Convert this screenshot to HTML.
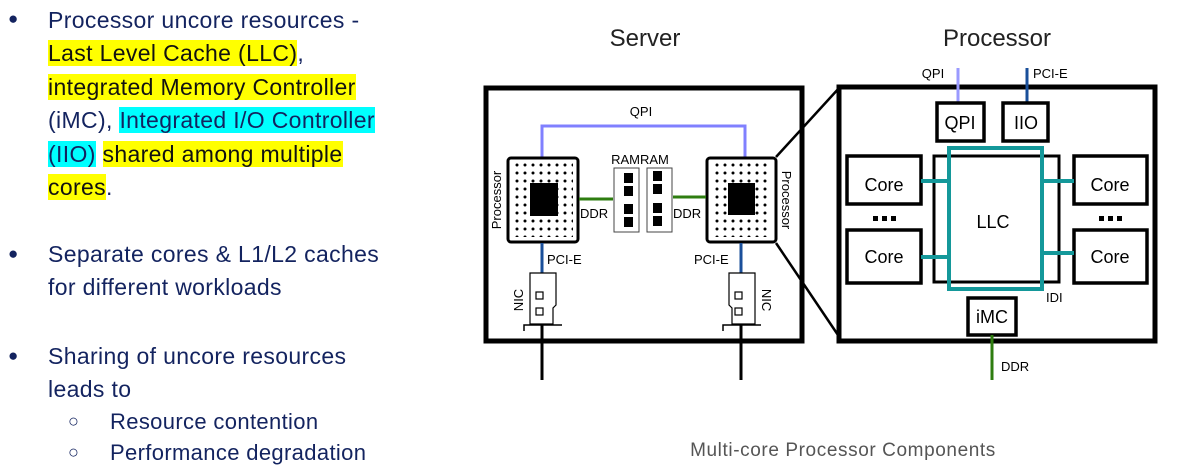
<!DOCTYPE html>
<html><head><meta charset="utf-8"><style>
body{margin:0;width:1188px;height:474px;background:#fff;overflow:hidden;position:relative;font-family:"Liberation Sans",Arial,sans-serif}
.l{position:absolute;font-size:23px;letter-spacing:0.35px;color:#13235f;white-space:nowrap;line-height:27px}
.y{background:#ffff00;color:#111}
.c{background:#00ffff;color:#13235f}
.b{position:absolute;font-size:17px;color:#13235f}
</style></head><body>
<div class="b" style="left:8px;top:9px">●</div>
<div class="l" style="left:48px;top:7px">Processor uncore resources -</div>
<div class="l" style="left:48px;top:40px"><span class="y">Last Level Cache (LLC)</span>,</div>
<div class="l" style="left:48px;top:74px"><span class="y">integrated Memory Controller</span></div>
<div class="l" style="left:48px;top:107px">(iMC), <span class="c">Integrated I/O Controller</span></div>
<div class="l" style="left:48px;top:141px"><span class="c">(IIO)</span> <span class="y">shared among multiple</span></div>
<div class="l" style="left:48px;top:174px"><span class="y">cores</span>.</div>
<div class="b" style="left:8px;top:244px">●</div>
<div class="l" style="left:48px;top:241px">Separate cores &amp; L1/L2 caches</div>
<div class="l" style="left:48px;top:274px">for different workloads</div>
<div class="b" style="left:8px;top:346px">●</div>
<div class="l" style="left:48px;top:343px">Sharing of uncore resources</div>
<div class="l" style="left:48px;top:376px">leads to</div>
<div class="l" style="left:68px;top:408px;font-size:18px">○</div>
<div class="l" style="left:110px;top:408px;font-size:22px">Resource contention</div>
<div class="l" style="left:68px;top:439px;font-size:18px">○</div>
<div class="l" style="left:110px;top:439px;font-size:22px">Performance degradation</div>

<svg width="1188" height="474" style="position:absolute;left:0;top:0" font-family="Liberation Sans,Arial,sans-serif">
<defs>
<pattern id="dots" width="8" height="8" patternUnits="userSpaceOnUse" x="2" y="2"><circle cx="3" cy="3" r="1.5" fill="#000"/></pattern>
</defs>
<text x="645" y="46" font-size="24" text-anchor="middle" fill="#222">Server</text>
<text x="997" y="46" font-size="24" text-anchor="middle" fill="#222">Processor</text>
<text x="843" y="456" font-size="19" letter-spacing="0.6" text-anchor="middle" fill="#555">Multi-core Processor Components</text>
<rect x="486" y="88" width="316" height="253" fill="none" stroke="#000" stroke-width="5"/>
<polyline points="542,157 542,126 745,126 745,157" fill="none" stroke="#8080ff" stroke-width="3"/>
<text x="641" y="116" font-size="13" text-anchor="middle">QPI</text>
<rect x="508" y="158" width="70" height="84" rx="3" fill="#fff" stroke="#000" stroke-width="3"/>
<rect x="513" y="163" width="60" height="74" fill="url(#dots)"/>
<rect x="530" y="183" width="28" height="33" fill="#000"/>
<rect x="707" y="158" width="69" height="84" rx="3" fill="#fff" stroke="#000" stroke-width="3"/>
<rect x="712" y="163" width="59" height="74" fill="url(#dots)"/>
<rect x="728" y="183" width="27" height="32" fill="#000"/>
<text transform="translate(501,200) rotate(-90)" font-size="13" text-anchor="middle">Processor</text>
<text transform="translate(782,200) rotate(90)" font-size="13" text-anchor="middle">Processor</text>
<line x1="579" y1="199" x2="613" y2="199" stroke="#2e7d10" stroke-width="3"/>
<line x1="673" y1="197" x2="706" y2="197" stroke="#2e7d10" stroke-width="3"/>
<rect x="614" y="168" width="25" height="64" fill="#fff" stroke="#444" stroke-width="1"/>
<rect x="647" y="168" width="25" height="64" fill="#fff" stroke="#444" stroke-width="1"/>
<g fill="#000"><rect x="624" y="173" width="9" height="10"/><rect x="624" y="186" width="9" height="10"/><rect x="624" y="204" width="9" height="10"/><rect x="624" y="217" width="9" height="10"/>
<rect x="653" y="171" width="9" height="10"/><rect x="653" y="184" width="9" height="10"/><rect x="653" y="203" width="9" height="10"/><rect x="653" y="216" width="9" height="10"/></g>
<text x="640" y="164" font-size="13" text-anchor="middle">RAMRAM</text>
<text x="580" y="218" font-size="13">DDR</text>
<text x="673" y="218" font-size="13">DDR</text>
<line x1="542" y1="243" x2="542" y2="273" stroke="#1a4f9a" stroke-width="3"/>
<line x1="741" y1="243" x2="741" y2="273" stroke="#1a4f9a" stroke-width="3"/>
<text x="547" y="264" font-size="13">PCI-E</text>
<text x="694" y="264" font-size="13">PCI-E</text>
<g fill="#fff" stroke="#000" stroke-width="1.2">
<path d="M530,273 H556 V305 L553,308 V324 H530 Z"/>
<path d="M729,273 H755 V324 H732 V308 L729,305 Z"/>
<rect x="536" y="292" width="7" height="7"/><rect x="536" y="308" width="7" height="7"/>
<rect x="735" y="292" width="7" height="7"/><rect x="735" y="308" width="7" height="7"/>
</g>
<path d="M524,331 V325 H562" fill="none" stroke="#000" stroke-width="1.5"/>
<path d="M723,331 V325 H761" fill="none" stroke="#000" stroke-width="1.5"/>
<text transform="translate(523,300) rotate(-90)" font-size="13" text-anchor="middle">NIC</text>
<text transform="translate(762,300) rotate(90)" font-size="13" text-anchor="middle">NIC</text>
<line x1="542" y1="325" x2="542" y2="380" stroke="#000" stroke-width="3"/>
<line x1="741" y1="325" x2="741" y2="380" stroke="#000" stroke-width="3"/>
<line x1="776" y1="157" x2="840" y2="87" stroke="#000" stroke-width="2.5"/>
<line x1="776" y1="243" x2="840" y2="338" stroke="#000" stroke-width="2.5"/>
<rect x="839" y="87" width="316" height="254" fill="none" stroke="#000" stroke-width="5"/>
<line x1="958" y1="68" x2="958" y2="102" stroke="#9a9aff" stroke-width="3"/>
<line x1="1027" y1="68" x2="1027" y2="102" stroke="#1a4f9a" stroke-width="3"/>
<text x="933" y="78" font-size="13" text-anchor="middle">QPI</text>
<text x="1033" y="78" font-size="13">PCI-E</text>
<g fill="#fff" stroke="#000" stroke-width="3.5">
<rect x="937" y="103" width="47" height="38"/>
<rect x="1003" y="103" width="45" height="38"/>
<rect x="934" y="156" width="125" height="126" stroke-width="3"/>
<rect x="847" y="156" width="74" height="48"/>
<rect x="847" y="230" width="74" height="53"/>
<rect x="1074" y="156" width="73" height="48"/>
<rect x="1074" y="230" width="73" height="53"/>
<rect x="968" y="298" width="48" height="37"/>
</g>
<rect x="949" y="148" width="93" height="141" fill="none" stroke="#14989a" stroke-width="4"/>
<g stroke="#14989a" stroke-width="4"><line x1="921" y1="181" x2="949" y2="181"/><line x1="921" y1="257" x2="949" y2="257"/><line x1="1042" y1="181" x2="1074" y2="181"/><line x1="1042" y1="253" x2="1074" y2="253"/></g>
<line x1="992" y1="335" x2="992" y2="380" stroke="#2e7d10" stroke-width="3"/>
<g font-size="18" text-anchor="middle">
<text x="960" y="129">QPI</text><text x="1026" y="129">IIO</text>
<text x="884" y="191">Core</text><text x="884" y="263">Core</text>
<text x="1110" y="191">Core</text><text x="1110" y="263">Core</text>
<text x="993" y="228">LLC</text><text x="992" y="323">iMC</text>
</g>
<g fill="#000"><rect x="873" y="216" width="5" height="5"/><rect x="882" y="216" width="5" height="5"/><rect x="891" y="216" width="5" height="5"/>
<rect x="1099" y="216" width="5" height="5"/><rect x="1108" y="216" width="5" height="5"/><rect x="1117" y="216" width="5" height="5"/></g>
<text x="1046" y="302" font-size="13">IDI</text>
<text x="1001" y="371" font-size="13">DDR</text>
</svg>
</body></html>
